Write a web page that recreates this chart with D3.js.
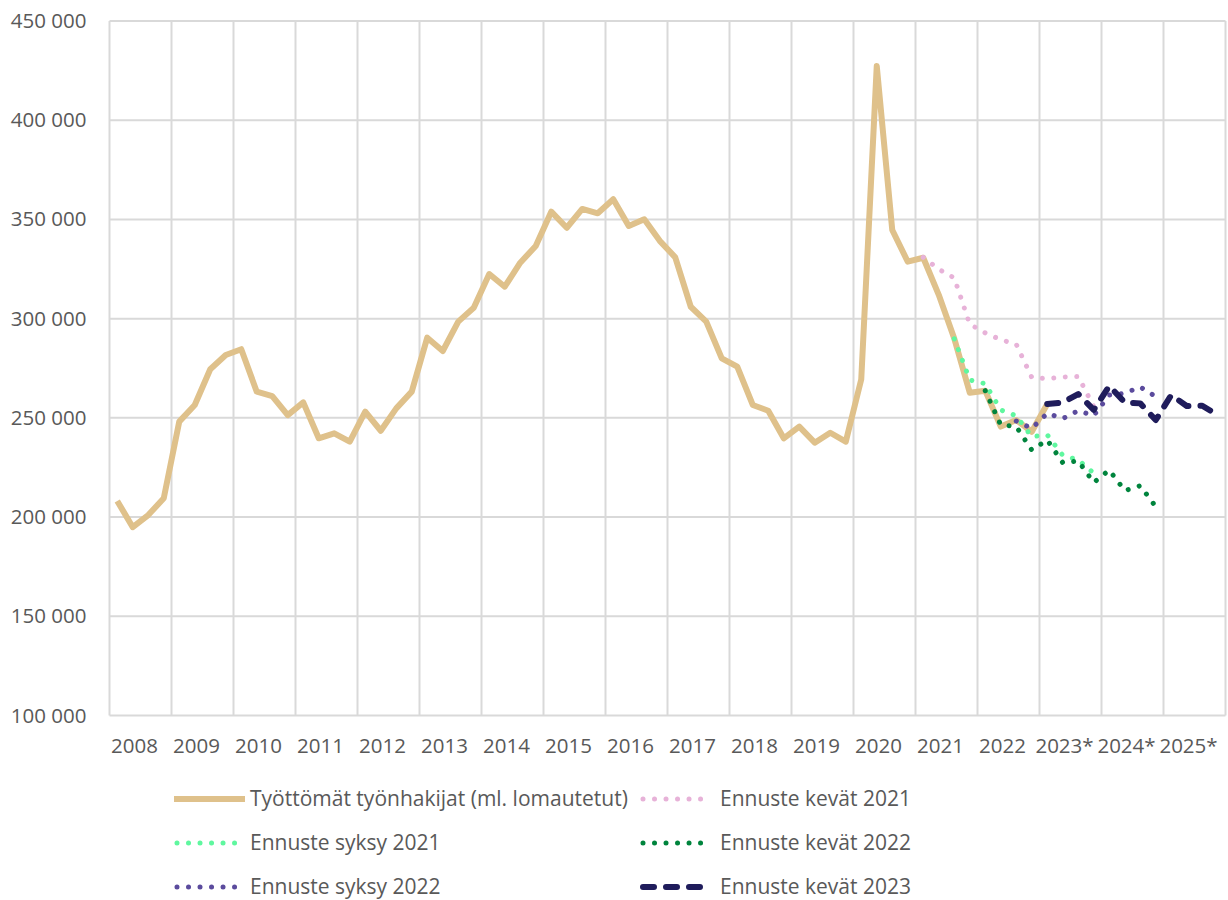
<!DOCTYPE html>
<html lang="fi">
<head>
<meta charset="UTF-8">
<title>Työttömät työnhakijat ja ennusteet</title>
<style>
  body { margin: 0; background: #fff; }
  text { font-family: "Open Sans", "Noto Sans", sans-serif; fill: #595959; }
</style>
</head>
<body>
<div id="chart"></div>
<script src="https://d3js.org/d3.v7.min.js"></script>
<script>
// vuodet (x-akseli), neljännesvuosittainen data
const years = ["2008", "2009", "2010", "2011", "2012", "2013", "2014", "2015", "2016",
               "2017", "2018", "2019", "2020", "2021", "2022", "2023*", "2024*", "2025*"];
const yTicks = [100000, 150000, 200000, 250000, 300000, 350000, 400000, 450000];

// toteutunut, 2008Q1 - 2023Q1 (tuhatta)
const actual = [
  208.1, 194.9, 201.0, 209.5,
  248.1, 256.5, 274.5, 281.7,
  284.6, 263.2, 261.0, 251.4,
  257.8, 239.7, 242.2, 238.0,
  253.1, 243.5, 254.8, 263.2,
  290.4, 283.7, 298.5, 305.5,
  322.5, 316.1, 328.2, 336.6,
  353.9, 345.8, 355.3, 353.1,
  360.2, 346.7, 350.1, 339.2,
  330.9, 306.0, 298.5, 280.0,
  275.8, 256.5, 253.6, 239.7,
  245.6, 237.5, 242.5, 238.0,
  269.4, 427.3, 344.7, 328.7,
  330.7, 312.0, 290.0, 262.7,
  263.7, 245.6, 248.9, 243.0,
  257.0
];

// ennusteet: alkuneljännes (indeksi) ja arvot
const kevat2021Start = 52;
const kevat2021 = [330.9, 324.9, 320.5, 297.2, 292.8, 289.4, 287.1, 270.4, 269.7, 270.6, 270.8, 255.6];
const syksy2021Start = 54;
const syksy2021 = [289.8, 269.1, 267.2, 254.0, 251.0, 240.5, 241.4, 231.1, 228.8, 222.1];
const kevat2022Start = 56;
const kevat2022 = [263.7, 246.4, 245.6, 233.8, 238.8, 227.4, 228.3, 217.4, 223.7, 213.3, 215.8, 205.2];
const syksy2022Start = 58;
const syksy2022 = [248.4, 244.7, 252.3, 249.6, 253.6, 251.1, 261.5, 262.4, 265.6, 260.7];
const kevat2023Start = 60;
const kevat2023 = [257.0, 257.7, 262.0, 254.0, 266.1, 257.8, 257.3, 248.9, 261.5, 256.0, 256.1, 251.4];

const width = 1228, height = 900;
const plotLeft = 109.5, plotRight = 1225.5, plotTop = 21, plotBottom = 715.5;

const svg = d3.select("#chart").append("svg")
  .attr("width", width)
  .attr("height", height);

const x = d3.scaleLinear().domain([0, years.length * 4]).range([plotLeft, plotRight]);
const xBand = d3.scaleBand().domain(years).range([plotLeft, plotRight]);
const y = d3.scaleLinear().domain([100000, 450000]).range([plotBottom, plotTop]);

const fi = d3.formatLocale({ decimal: ",", thousands: "\u00a0", grouping: [3], currency: ["", " €"] });
const fmt = fi.format(",d");

// ruudukko
svg.append("g")
  .selectAll("line")
  .data(yTicks)
  .join("line")
  .attr("x1", plotLeft).attr("x2", plotRight)
  .attr("y1", d => y(d)).attr("y2", d => y(d))
  .attr("stroke", "#d9d9d9").attr("stroke-width", 2);

svg.append("g")
  .selectAll("line")
  .data(d3.range(years.length + 1))
  .join("line")
  .attr("x1", i => x(i * 4)).attr("x2", i => x(i * 4))
  .attr("y1", plotTop).attr("y2", plotBottom)
  .attr("stroke", "#d9d9d9").attr("stroke-width", 2);

// akselit
const yAxis = svg.append("g")
  .attr("transform", `translate(${plotLeft},0)`)
  .call(d3.axisLeft(y).tickValues(yTicks).tickFormat(fmt).tickSize(0).tickPadding(23));
yAxis.select(".domain").remove();
yAxis.selectAll("text").style("font-size", "20.5px").attr("fill", "#595959");

const xAxis = svg.append("g")
  .attr("transform", `translate(-6,${plotBottom})`)
  .call(d3.axisBottom(xBand).tickSize(0).tickPadding(23));
xAxis.select(".domain").remove();
xAxis.selectAll("text").style("font-size", "20.5px").attr("fill", "#595959");

const line = d3.line()
  .x(d => x(d.i + 0.5))
  .y(d => y(d.v * 1000));

const toPts = (vals, start) => vals.map((v, k) => ({ i: start + k, v }));

const series = [
  { name: "Työttömät työnhakijat (ml. lomautetut)", data: toPts(actual, 0), color: "#dfc18b", w: 6, dash: null, cap: "butt" },
  { name: "Ennuste kevät 2021", data: toPts(kevat2021, kevat2021Start), color: "#e7b2d8", w: 5, dash: "0.01 11.5", cap: "round" },
  { name: "Ennuste syksy 2021", data: toPts(syksy2021, syksy2021Start), color: "#5ff79f", w: 5, dash: "0.01 11.5", cap: "round" },
  { name: "Ennuste kevät 2022", data: toPts(kevat2022, kevat2022Start), color: "#00843d", w: 5, dash: "0.01 11.5", cap: "round" },
  { name: "Ennuste syksy 2022", data: toPts(syksy2022, syksy2022Start), color: "#5b4b9d", w: 5, dash: "0.01 11.5", cap: "round" },
  { name: "Ennuste kevät 2023", data: toPts(kevat2023, kevat2023Start), color: "#1f1c5b", w: 6, dash: "11 12", cap: "round" }
];

svg.append("g")
  .selectAll("path")
  .data(series)
  .join("path")
  .attr("d", d => line(d.data))
  .attr("fill", "none")
  .attr("stroke", d => d.color)
  .attr("stroke-width", d => d.w)
  .attr("stroke-linejoin", "round")
  .attr("stroke-linecap", d => d.cap)
  .attr("stroke-dasharray", d => d.dash);

// selite
const legendPos = [[174, 799], [640, 799], [174, 843], [640, 843], [174, 887], [640, 887]];
const legend = svg.append("g")
  .selectAll("g")
  .data(series)
  .join("g")
  .attr("transform", (d, i) => `translate(${legendPos[i][0]},${legendPos[i][1]})`);

legend.append("line")
  .attr("x1", d => d.dash ? 3 : 0)
  .attr("x2", 71)
  .attr("stroke", d => d.color)
  .attr("stroke-width", d => d.w)
  .attr("stroke-linecap", d => d.cap)
  .attr("stroke-dasharray", d => d.dash);

legend.append("text")
  .attr("x", (d, i) => i % 2 === 0 ? 76 : 80)
  .attr("dy", "0.35em")
  .style("font-size", "21px")
  .text(d => d.name);
</script>
</body>
</html>
